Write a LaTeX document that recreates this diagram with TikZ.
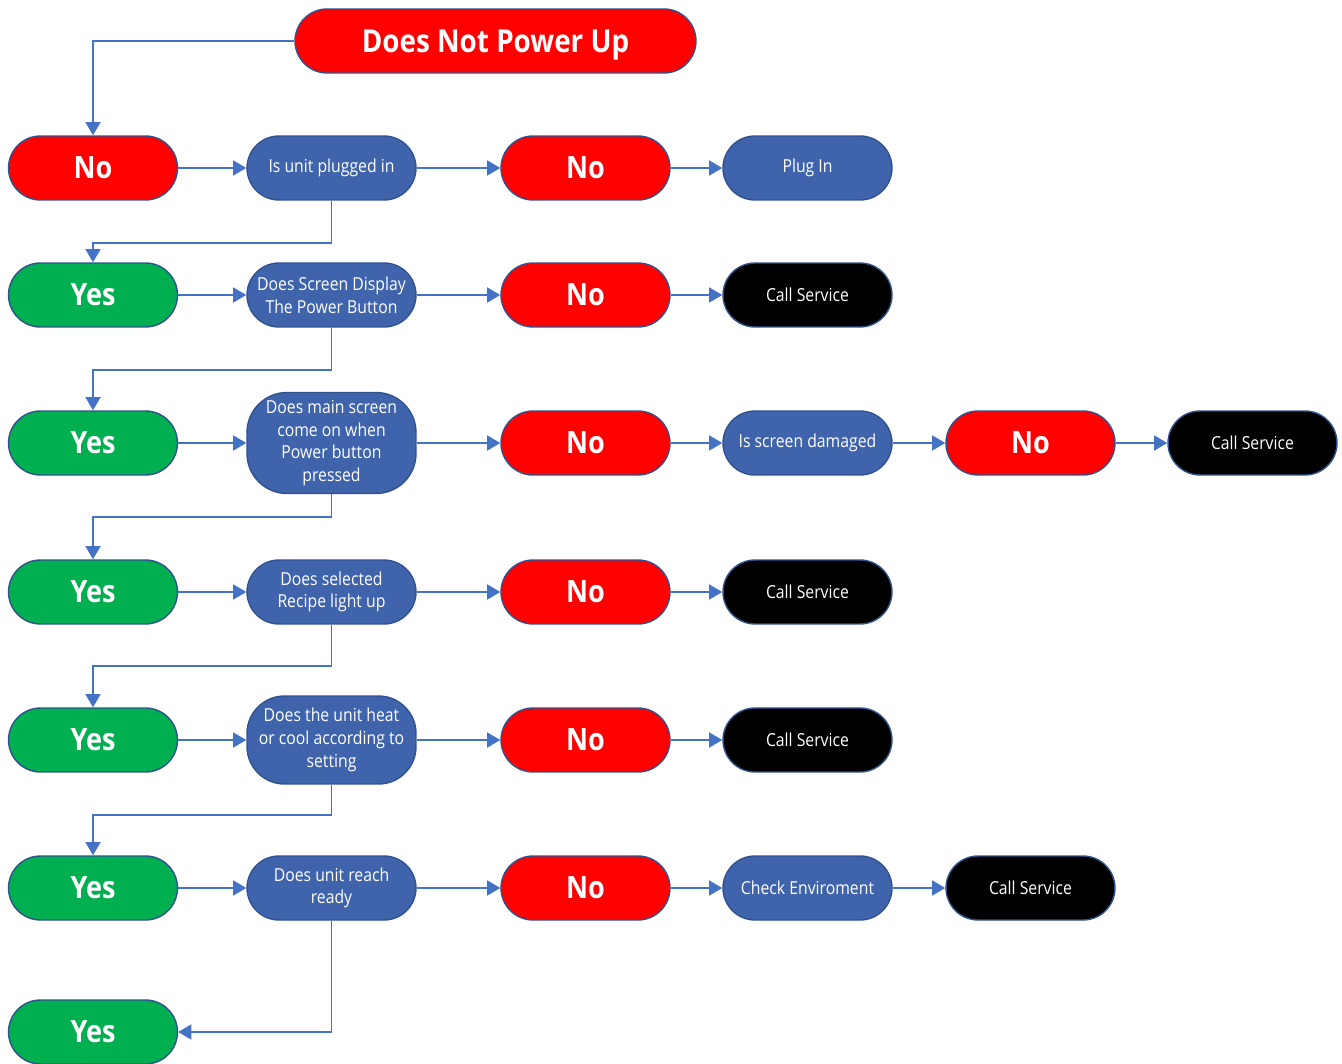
\documentclass[tikz,border=0pt]{standalone}
\usepackage{fontspec}
\setmainfont{Open Sans}
\newfontfamily\labelfont[FakeStretch=0.88]{Open Sans}
\usetikzlibrary{arrows.meta}
\definecolor{flowred}{HTML}{FF0000}
\definecolor{flowgreen}{HTML}{00B050}
\definecolor{flowblue}{HTML}{3F64AC}
\definecolor{edgeblue}{HTML}{2F528F}
\definecolor{linkblue}{HTML}{4472C4}
\begin{document}
\begin{tikzpicture}[x=0.02cm,y=-0.02cm,
    box/.style={draw=edgeblue,line width=0.8pt,rounded corners=0.64cm,
      minimum width=3.38cm,minimum height=1.28cm,text=white,align=center,inner sep=1pt},
    nobox/.style={box,fill=flowred,font=\labelfont\bfseries\fontsize{17.5}{20}\selectfont},
    yesbox/.style={box,fill=flowgreen,font=\labelfont\bfseries\fontsize{17.5}{20}\selectfont},
    askbox/.style={box,fill=flowblue,font=\labelfont\fontsize{10.2}{12.9}\selectfont},
    callbox/.style={box,fill=black,font=\labelfont\fontsize{10.2}{12.9}\selectfont},
    link/.style={draw=linkblue,line width=1.1pt,-{Triangle[length=7.5pt,width=8.5pt]}}]
  \useasboundingbox (0,0) rectangle (1342,1064);

  \node[nobox,minimum width=8.02cm,text depth=0pt,font=\labelfont\bfseries\fontsize{18}{20}\selectfont] (top) at (495.5,41) {Does Not Power Up};

  % first row
  \node[nobox] (no1) at (93,168) {No};
  \node[askbox] (q1) at (331.5,168) {Is unit plugged in};
  \node[nobox] (n1) at (585.5,168) {No};
  \node[askbox] (plug) at (807.5,168) {Plug In};

  \node[yesbox] (yes2) at (93,295) {Yes};
  \node[askbox] (q2) at (331.5,295) {Does Screen Display\\The Power Button};
  \node[nobox] (n2) at (585.5,295) {No};
  \node[callbox] (call2) at (807.5,295) {Call Service};

  \node[yesbox] (yes3) at (93,443) {Yes};
  \node[askbox,minimum height=2.02cm,rounded corners=0.8cm] (q3) at (331.5,443) {Does main screen\\come on when\\Power button\\pressed};
  \node[nobox] (n3) at (585.5,443) {No};
  \node[askbox] (dmg) at (807.5,443) {Is screen damaged};
  \node[nobox] (n3b) at (1030.5,443) {No};
  \node[callbox] (call3) at (1252.5,443) {Call Service};

  \node[yesbox] (yes4) at (93,592) {Yes};
  \node[askbox] (q4) at (331.5,592) {Does selected\\Recipe light up};
  \node[nobox] (n4) at (585.5,592) {No};
  \node[callbox] (call4) at (807.5,592) {Call Service};

  \node[yesbox] (yes5) at (93,740) {Yes};
  \node[askbox,minimum height=1.76cm,rounded corners=0.75cm] (q5) at (331.5,740) {Does the unit heat\\or cool according to\\setting};
  \node[nobox] (n5) at (585.5,740) {No};
  \node[callbox] (call5) at (807.5,740) {Call Service};

  \node[yesbox] (yes6) at (93,888) {Yes};
  \node[askbox] (q6) at (331.5,888) {Does unit reach\\ready};
  \node[nobox] (n6) at (585.5,888) {No};
  \node[askbox] (env) at (807.5,888) {Check Enviroment};
  \node[callbox] (call6) at (1030.5,888) {Call Service};

  \node[yesbox] (yes7) at (93,1032) {Yes};

  % connectors
  \draw[link] (top.west) -| (no1.north);
  \draw[link] (no1) -- (q1);
  \draw[link] (q1) -- (n1);
  \draw[link] (n1) -- (plug);
  \draw[link] (q1.south) -- ++(0,42) -| (yes2.north);
  \draw[link] (yes2) -- (q2);
  \draw[link] (q2) -- (n2);
  \draw[link] (n2) -- (call2);
  \draw[link] (q2.south) -- ++(0,42) -| (yes3.north);
  \draw[link] (yes3) -- (q3);
  \draw[link] (q3) -- (n3);
  \draw[link] (n3) -- (dmg);
  \draw[link] (dmg) -- (n3b);
  \draw[link] (n3b) -- (call3);
  \draw[link] (q3.south) -- ++(0,23) -| (yes4.north);
  \draw[link] (yes4) -- (q4);
  \draw[link] (q4) -- (n4);
  \draw[link] (n4) -- (call4);
  \draw[link] (q4.south) -- ++(0,41) -| (yes5.north);
  \draw[link] (yes5) -- (q5);
  \draw[link] (q5) -- (n5);
  \draw[link] (n5) -- (call5);
  \draw[link] (q5.south) -- ++(0,30) -| (yes6.north);
  \draw[link] (yes6) -- (q6);
  \draw[link] (q6) -- (n6);
  \draw[link] (n6) -- (env);
  \draw[link] (env) -- (call6);
  \draw[link] (q6.south) |- (yes7.east);
\end{tikzpicture}
\end{document}
